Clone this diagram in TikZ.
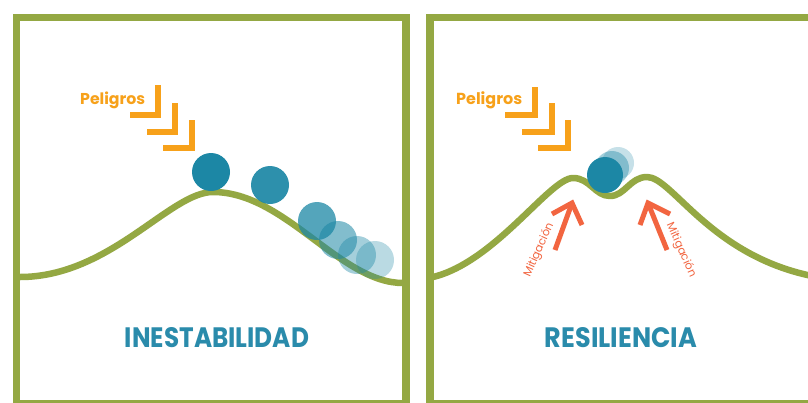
\documentclass[tikz,border=0pt]{standalone}
\usepackage{fontspec}
\setmainfont{Poppins}
\usepackage{graphicx}
\definecolor{grn}{HTML}{94A843}
\definecolor{org}{HTML}{F7A11A}
\definecolor{redo}{HTML}{F26540}
\definecolor{tealb}{HTML}{1C87A5}
\definecolor{titlec}{HTML}{2A8BAB}
\begin{document}
\begin{tikzpicture}[x=1pt,y=-1pt,
  frame/.style={draw=grn, line width=7.5pt},
  hill/.style={draw=grn, line width=6.5pt, line cap=round, line join=round},
  chev/.style={draw=org, line width=6.5pt, line join=miter},
  ball/.style={fill=tealb, draw=none},
  mitarrow/.style={draw=redo, line width=5pt, line join=miter},
  title/.style={text=titlec, inner sep=0pt, font=\bfseries},
  peli/.style={text=org, inner sep=0pt, anchor=base west, font=\bfseries},
  mit/.style={text=redo, inner sep=0pt}]
\useasboundingbox (0,0) rectangle (808,402);
\fill[white] (0,0) rectangle (808,402);
\begin{scope}
\clip (0,0) rectangle (808,402);
% frames
\draw[frame] (16.5,17.5) rectangle (406,403.5);
\draw[frame] (430,17.5) rectangle (820,403.5);
% hills
\draw[hill] (20,277) .. controls (110,277) and (170,192) .. (213,192)
                     .. controls (285,192) and (340,283) .. (403,283);
\draw[hill] (433,277) .. controls (495,262) and (550,178) .. (573,178)
            .. controls (590,178) and (595,196) .. (610,196)
            .. controls (625,196) and (630,177) .. (647,177)
            .. controls (672,177) and (710,255) .. (812,276);
\end{scope}
% balls left
\fill[ball] (211,172) circle (19);
\fill[ball, opacity=0.92] (270,185) circle (19);
\fill[ball, opacity=0.75] (317,221) circle (19);
\fill[ball, opacity=0.55] (338,240) circle (19);
\fill[ball, opacity=0.4] (357,255) circle (19);
\fill[ball, opacity=0.3] (375,260) circle (19);
% balls right
\fill[ball, opacity=0.25] (618,163) circle (16);
\fill[ball, opacity=0.4] (612,168) circle (17);
\fill[ball] (605,175) circle (18);
% chevrons left
\draw[chev] (130,115) -- (158,115) -- (158,85);
\draw[chev] (147,132) -- (175,132) -- (175,103);
\draw[chev] (163,148) -- (192,148) -- (192,120);
% chevrons right
\draw[chev] (505,115) -- (535,115) -- (535,87);
\draw[chev] (522,132) -- (552,132) -- (552,103);
\draw[chev] (538,148) -- (568,148) -- (568,120);
% Peligros
\node[peli] (p1) at (80,104) {\resizebox{65pt}{!}{Peligros}};
\node[peli] (p2) at (456,104) {\resizebox{66pt}{!}{Peligros}};
% mitigation arrows
\coordinate (la0) at (555,250);
\coordinate (la1) at (572,203);
\coordinate (ra0) at (667,250);
\coordinate (ra1) at (648,203);
\draw[mitarrow] (la0) -- (la1);
\draw[mitarrow] (552,214) -- (la1) -- (582,225);
\draw[mitarrow] (ra0) -- (ra1);
\draw[mitarrow] (670,214) -- (ra1) -- (640,225);
\node[mit, rotate=66] (m1) at (539,250) {\resizebox{58pt}{!}{Mitigación}};
\node[mit, rotate=-66] (m2) at (681,250) {\resizebox{58pt}{!}{Mitigación}};
% titles
\node[title] (t1) at (217,338) {\resizebox{184pt}{20pt}{INESTABILIDAD}};
\node[title] (t2) at (621,338) {\resizebox{152pt}{20pt}{RESILIENCIA}};
\end{tikzpicture}
\end{document}
